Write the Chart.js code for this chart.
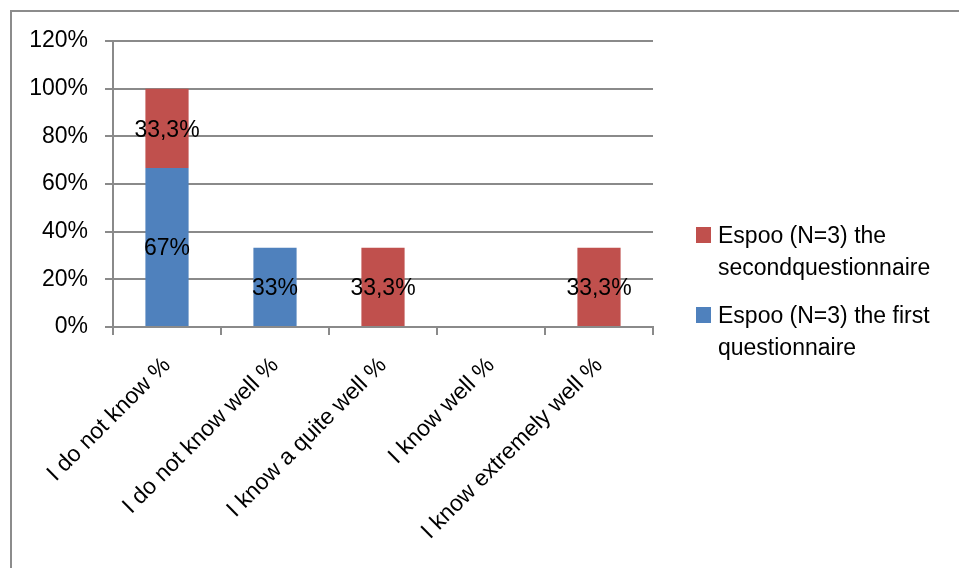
<!DOCTYPE html>
<html>
<head>
<meta charset="utf-8">
<script src="https://cdn.jsdelivr.net/npm/chart.js@4/dist/chart.umd.min.js"></script>
<style>
  html, body { margin: 0; padding: 0; background: #fff; }
</style>
</head>
<body>
<canvas id="chart" width="959" height="568"></canvas>
<script>
// categories and series
const categories = ['I do not know %', 'I do not know well %', 'I know a quite well %', 'I know well %', 'I know extremely well %'];
const firstQuestionnaire = [66.7, 33.3, null, null, null];
const secondQuestionnaire = [33.3, null, 33.3, null, 33.3];
const seriesNames = ['Espoo (N=3) the first questionnaire', 'Espoo (N=3) the secondquestionnaire'];

const FONT = { family: '"Liberation Sans", Arial, sans-serif', size: 23 };
const FONT_CSS = '23px "Liberation Sans", Arial, sans-serif';
const GRID = '#8a8a8a';

// outer frame (only its left and top edges show in the picture)
const frame = {
  id: 'frame',
  beforeDraw(chart) {
    const ctx = chart.ctx;
    ctx.save();
    ctx.strokeStyle = '#8c8c8c';
    ctx.lineWidth = 2;
    ctx.beginPath();
    ctx.moveTo(11, 600);
    ctx.lineTo(11, 11);
    ctx.lineTo(1000, 11);
    ctx.stroke();
    ctx.restore();
  }
};

// value labels in the middle of each bar segment
const barLabels = {
  id: 'barLabels',
  afterDatasetsDraw(chart) {
    const ctx = chart.ctx;
    ctx.save();
    ctx.font = FONT_CSS;
    ctx.fillStyle = '#000';
    ctx.textAlign = 'center';
    ctx.textBaseline = 'middle';
    chart.data.datasets.forEach((ds, i) => {
      chart.getDatasetMeta(i).data.forEach((bar, j) => {
        const v = ds.data[j];
        if (v == null) return;
        const p = bar.getCenterPoint();
        ctx.fillText(ds.valueText(v), p.x, p.y + 2);
      });
    });
    ctx.restore();
  }
};

// legend on the right, last series first, wrapped text
const sideLegend = {
  id: 'sideLegend',
  afterDraw(chart) {
    const ctx = chart.ctx;
    const x = 696, textX = 718, maxW = 232, lineH = 32;
    let base = 243;
    ctx.save();
    ctx.font = FONT_CSS;
    ctx.textAlign = 'left';
    ctx.textBaseline = 'alphabetic';
    chart.data.datasets.slice().reverse().forEach(ds => {
      const words = ds.label.split(' ');
      const lines = [];
      let cur = '';
      words.forEach(w => {
        const t = cur ? cur + ' ' + w : w;
        if (ctx.measureText(t).width > maxW && cur) {
          lines.push(cur);
          cur = w;
        } else {
          cur = t;
        }
      });
      lines.push(cur);
      ctx.fillStyle = ds.backgroundColor;
      ctx.fillRect(x, base - 16, 15, 16);
      ctx.fillStyle = '#000';
      lines.forEach((l, k) => ctx.fillText(l, textX, base + k * lineH));
      base += lines.length * lineH + 16;
    });
    ctx.restore();
  }
};

const ctx = document.getElementById('chart').getContext('2d');
new Chart(ctx, {
  type: 'bar',
  data: {
    labels: categories,
    datasets: [
      {
        label: seriesNames[0],
        data: firstQuestionnaire,
        backgroundColor: '#4f81bd',
        valueText: v => Math.round(v) + '%',
      },
      {
        label: seriesNames[1],
        data: secondQuestionnaire,
        backgroundColor: '#c0504d',
        valueText: v => v.toFixed(1).replace('.', ',') + '%',
      },
    ],
  },
  options: {
    responsive: false,
    animation: false,
    layout: { padding: { top: 41, right: 306, left: 0, bottom: 0 } },
    datasets: {
      bar: { categoryPercentage: 1, barPercentage: 0.4 },
    },
    plugins: {
      legend: { display: false },
      tooltip: { enabled: false },
    },
    scales: {
      x: {
        stacked: true,
        offset: true,
        grid: { offset: true, drawOnChartArea: false, drawTicks: true, tickLength: 8, color: GRID, lineWidth: 2 },
        border: { color: GRID, width: 2 },
        ticks: { color: '#000', font: FONT, minRotation: 45, maxRotation: 45, autoSkip: false, padding: 17 },
        afterFit(s) { s.height = 568 - 327; },
      },
      y: {
        stacked: true,
        min: 0,
        max: 120,
        grid: { color: GRID, tickLength: 8, lineWidth: 2 },
        border: { color: GRID, width: 2 },
        ticks: { stepSize: 20, color: '#000', font: FONT, padding: 17, callback: v => v + '%' },
        afterFit(s) { s.width = 113; },
      },
    },
  },
  plugins: [frame, barLabels, sideLegend],
});
</script>
</body>
</html>
